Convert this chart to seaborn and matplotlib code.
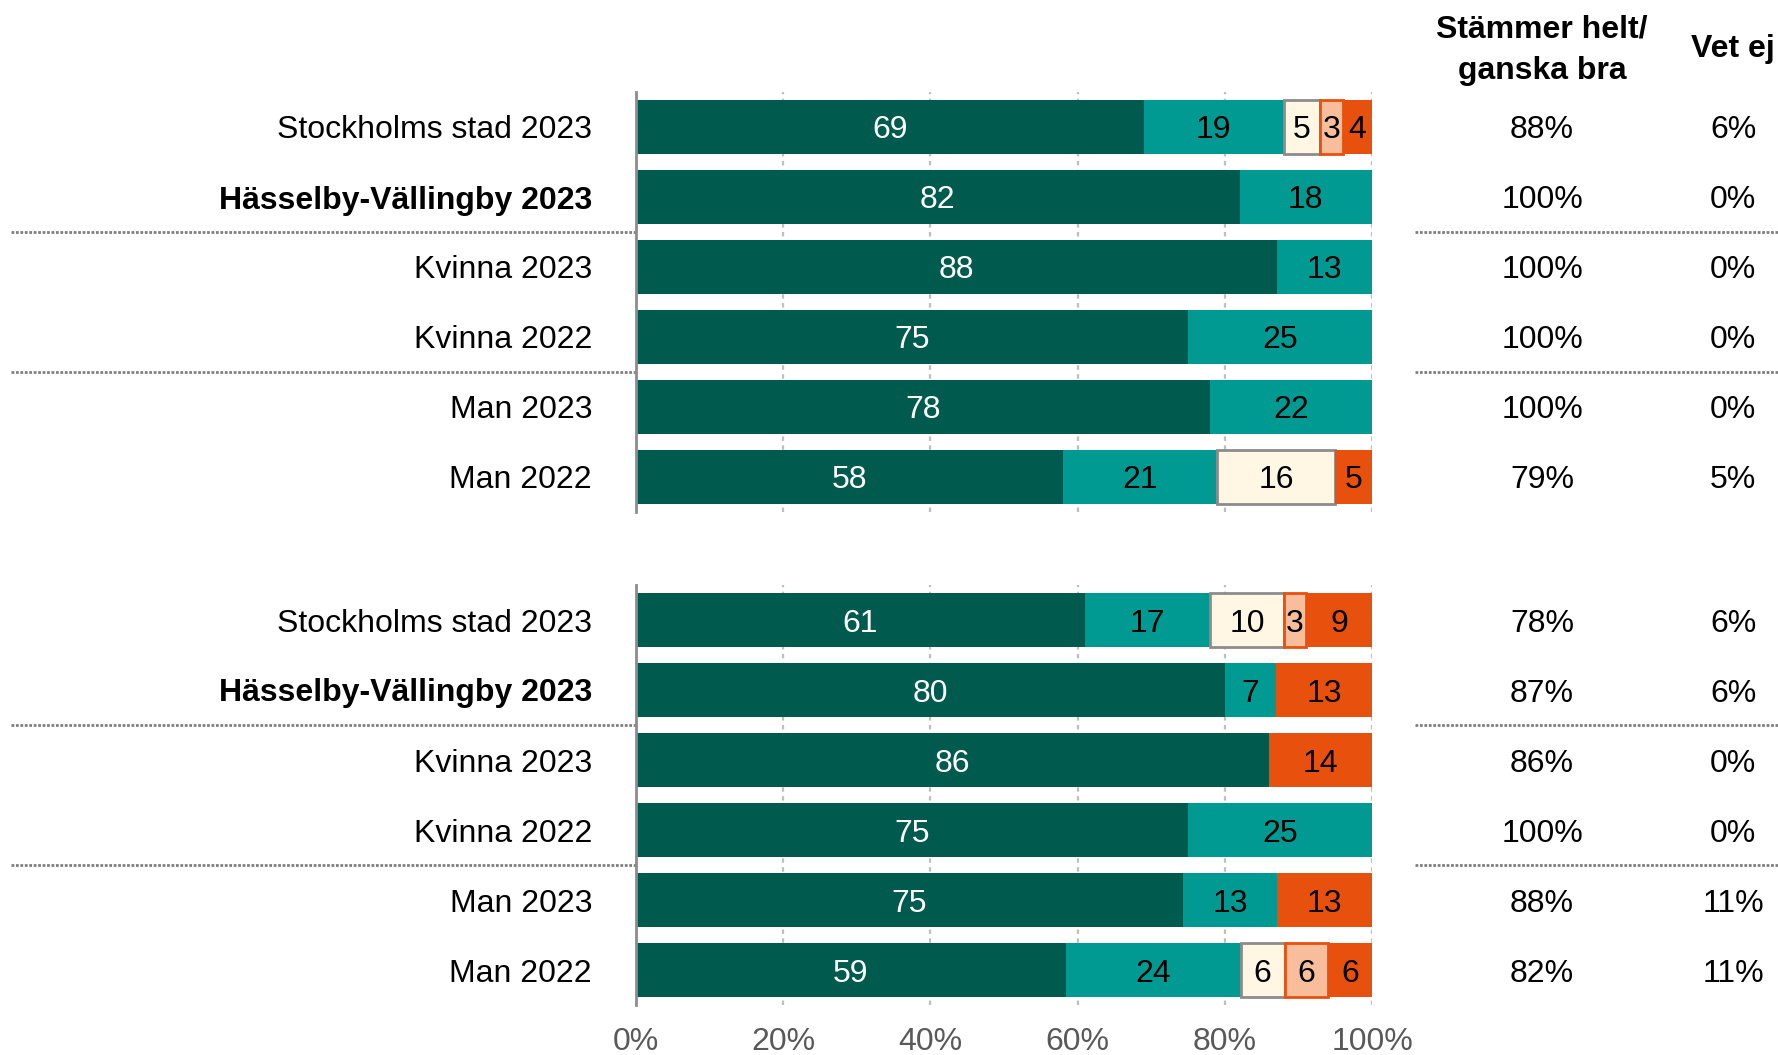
import numpy as np
import matplotlib
matplotlib.use("Agg")
import matplotlib.pyplot as plt
import matplotlib.transforms as mtransforms
import seaborn as sns

# Row labels (same for both panels)
rows = ["Stockholms stad 2023", "Hässelby-Vällingby 2023", "Kvinna 2023",
        "Kvinna 2022", "Man 2023", "Man 2022"]
bold_row = "Hässelby-Vällingby 2023"

# Panel 1 (top)
p1_helt = [69, 82, 88, 75, 78, 58]
p1_ganska = [19, 18, 13, 25, 22, 21]
p1_varken = [5, 0, 0, 0, 0, 16]
p1_daligt = [3, 0, 0, 0, 0, 0]
p1_heltdaligt = [4, 0, 0, 0, 0, 5]
p1_bra = [88, 100, 100, 100, 100, 79]
p1_vetej = [6, 0, 0, 0, 0, 5]

# Panel 2 (bottom)
p2_helt = [61, 80, 86, 75, 75, 59]
p2_ganska = [17, 7, 0, 25, 13, 24]
p2_varken = [10, 0, 0, 0, 0, 6]
p2_daligt = [3, 0, 0, 0, 0, 6]
p2_heltdaligt = [9, 13, 14, 0, 13, 6]
p2_bra = [78, 87, 86, 100, 88, 82]
p2_vetej = [6, 6, 0, 0, 11, 11]

x_ticks = [0, 20, 40, 60, 80, 100]
col_headers = ["Stämmer helt/", "ganska bra", "Vet ej"]

# segment styles: face, edge, text colour
SEGMENTS = [
    ("#005A4E", "none", "white"),
    ("#009A92", "none", "black"),
    ("#FFF6E3", "#8C8C8C", "black"),
    ("#F8BE9C", "#E8500E", "black"),
    ("#E8500E", "none", "black"),
]

sns.set_theme(style="white")
plt.rcParams["font.family"] = ["Liberation Sans", "DejaVu Sans"]
plt.rcParams["text.color"] = "black"

W, H = 1778, 1055
fig = plt.figure(figsize=(W / 100, H / 100), dpi=100)

x0, x1 = 636 / W, 1372 / W
ax1 = fig.add_axes([x0, 1 - 512 / H, x1 - x0, 420 / H])
ax2 = fig.add_axes([x0, 1 - 1005 / H, x1 - x0, 420 / H])

FS = 23
label_x = 592 / W
col_x = [1542 / W, 1733 / W]


def draw_panel(ax, series, bra, vetej, show_xticks):
    data = np.array(series, dtype=float).T  # rows x segments
    widths = data / data.sum(axis=1, keepdims=True) * 100
    ypos = np.arange(len(rows))

    for g in x_ticks[1:]:
        ax.axvline(g, color="#BFBFBF", lw=1.6, ls=(0, (2, 2)), zorder=0)

    for i in range(len(rows)):
        left = 0.0
        for j, (fc, ec, tc) in enumerate(SEGMENTS):
            w = widths[i, j]
            if data[i, j] <= 0:
                continue
            ax.barh(ypos[i], w, left=left, height=0.76, color=fc,
                    edgecolor=ec, linewidth=2 if ec != "none" else 0, zorder=2)
            ax.text(left + w / 2, ypos[i], f"{int(data[i, j])}", ha="center",
                    va="center_baseline", fontsize=FS, color=tc, zorder=3)
            left += w

    ax.set_xlim(0, 100)
    ax.set_ylim(len(rows) - 0.5, -0.5)
    ax.set_yticks([])
    for s in ["top", "right", "bottom"]:
        ax.spines[s].set_visible(False)
    ax.spines["left"].set_color("#8C8C8C")
    ax.spines["left"].set_linewidth(2)
    ax.set_xticks(x_ticks)
    if show_xticks:
        ax.set_xticklabels([f"{t}%" for t in x_ticks], fontsize=FS, color="#595959")
        ax.tick_params(axis="x", length=0, pad=16)
    else:
        ax.set_xticklabels([])
        ax.tick_params(axis="x", length=0)

    trans = mtransforms.blended_transform_factory(fig.transFigure, ax.transData)
    for i, name in enumerate(rows):
        ax.text(label_x, ypos[i], name, transform=trans, ha="right",
                va="center_baseline", fontsize=FS, color="black",
                fontweight="bold" if name == bold_row else "normal")
        ax.text(col_x[0], ypos[i], f"{bra[i]}%", transform=trans, ha="center",
                va="center_baseline", fontsize=FS, color="black")
        ax.text(col_x[1], ypos[i], f"{vetej[i]}%", transform=trans, ha="center",
                va="center_baseline", fontsize=FS, color="black")

    # dotted separators between sub groups
    for yb in [1.5, 3.5]:
        for xa, xb in [(11 / W, x0), (1415 / W, 1.0)]:
            ax.plot([xa, xb], [yb, yb], transform=trans, color="#7F7F7F",
                    lw=2, ls=(0, (1, 0.6)), clip_on=False, zorder=1)


draw_panel(ax1, [p1_helt, p1_ganska, p1_varken, p1_daligt, p1_heltdaligt],
           p1_bra, p1_vetej, False)
draw_panel(ax2, [p2_helt, p2_ganska, p2_varken, p2_daligt, p2_heltdaligt],
           p2_bra, p2_vetej, True)

fig.text(col_x[0], 1 - 26 / H, col_headers[0], ha="center", va="center_baseline",
         fontsize=FS, fontweight="bold", color="black")
fig.text(col_x[0], 1 - 68 / H, col_headers[1], ha="center", va="center_baseline",
         fontsize=FS, fontweight="bold", color="black")
fig.text(col_x[1], 1 - 46 / H, col_headers[2], ha="center", va="center_baseline",
         fontsize=FS, fontweight="bold", color="black")

fig.savefig("out.png", dpi=100)
